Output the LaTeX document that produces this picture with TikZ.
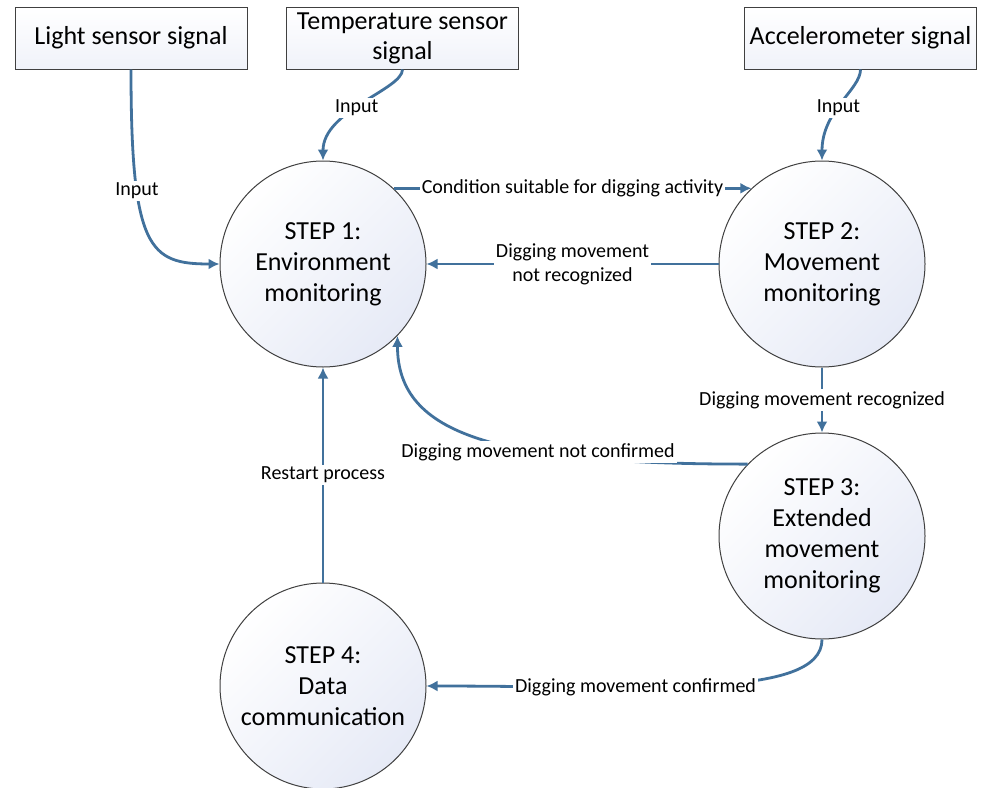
\documentclass[tikz,border=0pt]{standalone}
\usepackage{fontspec}
\setmainfont{Carlito}
\usetikzlibrary{arrows.meta}
\definecolor{flowblue}{HTML}{41719C}
\definecolor{stepfill}{HTML}{E6EAF6}

\begin{document}
\begin{tikzpicture}[x=1pt,y=-1pt,align=center,
    signal/.style={rectangle,draw=black!75,line width=1pt,top color=white,bottom color=stepfill!60,minimum width=232pt,minimum height=62pt,inner sep=2pt,font=\fontsize{26}{30}\selectfont},
    stepnode/.style={circle,draw=black!75,line width=1pt,top color=white,bottom color=stepfill,shading angle=45,minimum size=206pt,inner sep=0pt,font=\fontsize{26}{31}\selectfont},
    flow/.style={draw=flowblue,line width=2.8pt,-{Latex[length=11pt,width=11pt]}},
    lbl/.style={fill=white,inner sep=2pt,font=\fontsize{20}{24}\selectfont}]
    \fill[white] (0,0) rectangle (981,787);
    \useasboundingbox (0,0) rectangle (981,787);

    \node[signal] at (131, 38) (light) {Light sensor signal};
    \node[signal] at (402.5, 38) (temp) {Temperature sensor\\signal};
    \node[signal] at (860.5, 38) (accel) {Accelerometer signal};
    \node[stepnode] at (323, 264) (s1) {STEP 1:\\Environment\\monitoring};
    \node[stepnode] at (822, 264) (s2) {STEP 2:\\Movement\\monitoring};
    \node[stepnode] at (822, 536) (s3) {STEP 3:\\Extended\\movement\\monitoring};
    \node[stepnode] at (323, 686) (s4) {STEP 4:\\Data\\communication};

    \draw[flow] (light.south) .. controls +(0,180) and +(-70,0) .. node[lbl,pos=0.3] {Input} (s1.west);
    \draw[flow] (temp.south) .. controls +(0,20) and +(0,-50) .. node[lbl,pos=0.55] {Input} (s1.north);
    \draw[flow] (accel.south) .. controls +(0,20) and +(0,-50) .. node[lbl,pos=0.55] {Input} (s2.north);
    \draw[flow] (s1.47) -- node[lbl] {Condition suitable for digging activity} (s2.133);
    \draw[flow] (s2.west) -- node[lbl] {Digging movement\\not recognized} (s1.east);
    \draw[flow] (s2.south) -- node[lbl] {Digging movement recognized} (s3.north);
    \draw[flow] (s3.136) .. controls +(-250,0) and +(0,100) .. node[lbl,pos=0.35] {Digging movement not confirmed} (s1.-44);
    \draw[flow] (s4.north) -- node[lbl] {Restart process} (s1.south);
    \draw[flow] (s3.south) .. controls +(0,60) and +(220,0) .. node[lbl,pos=0.65] {Digging movement confirmed} (s4.east);
\end{tikzpicture}
\end{document}
